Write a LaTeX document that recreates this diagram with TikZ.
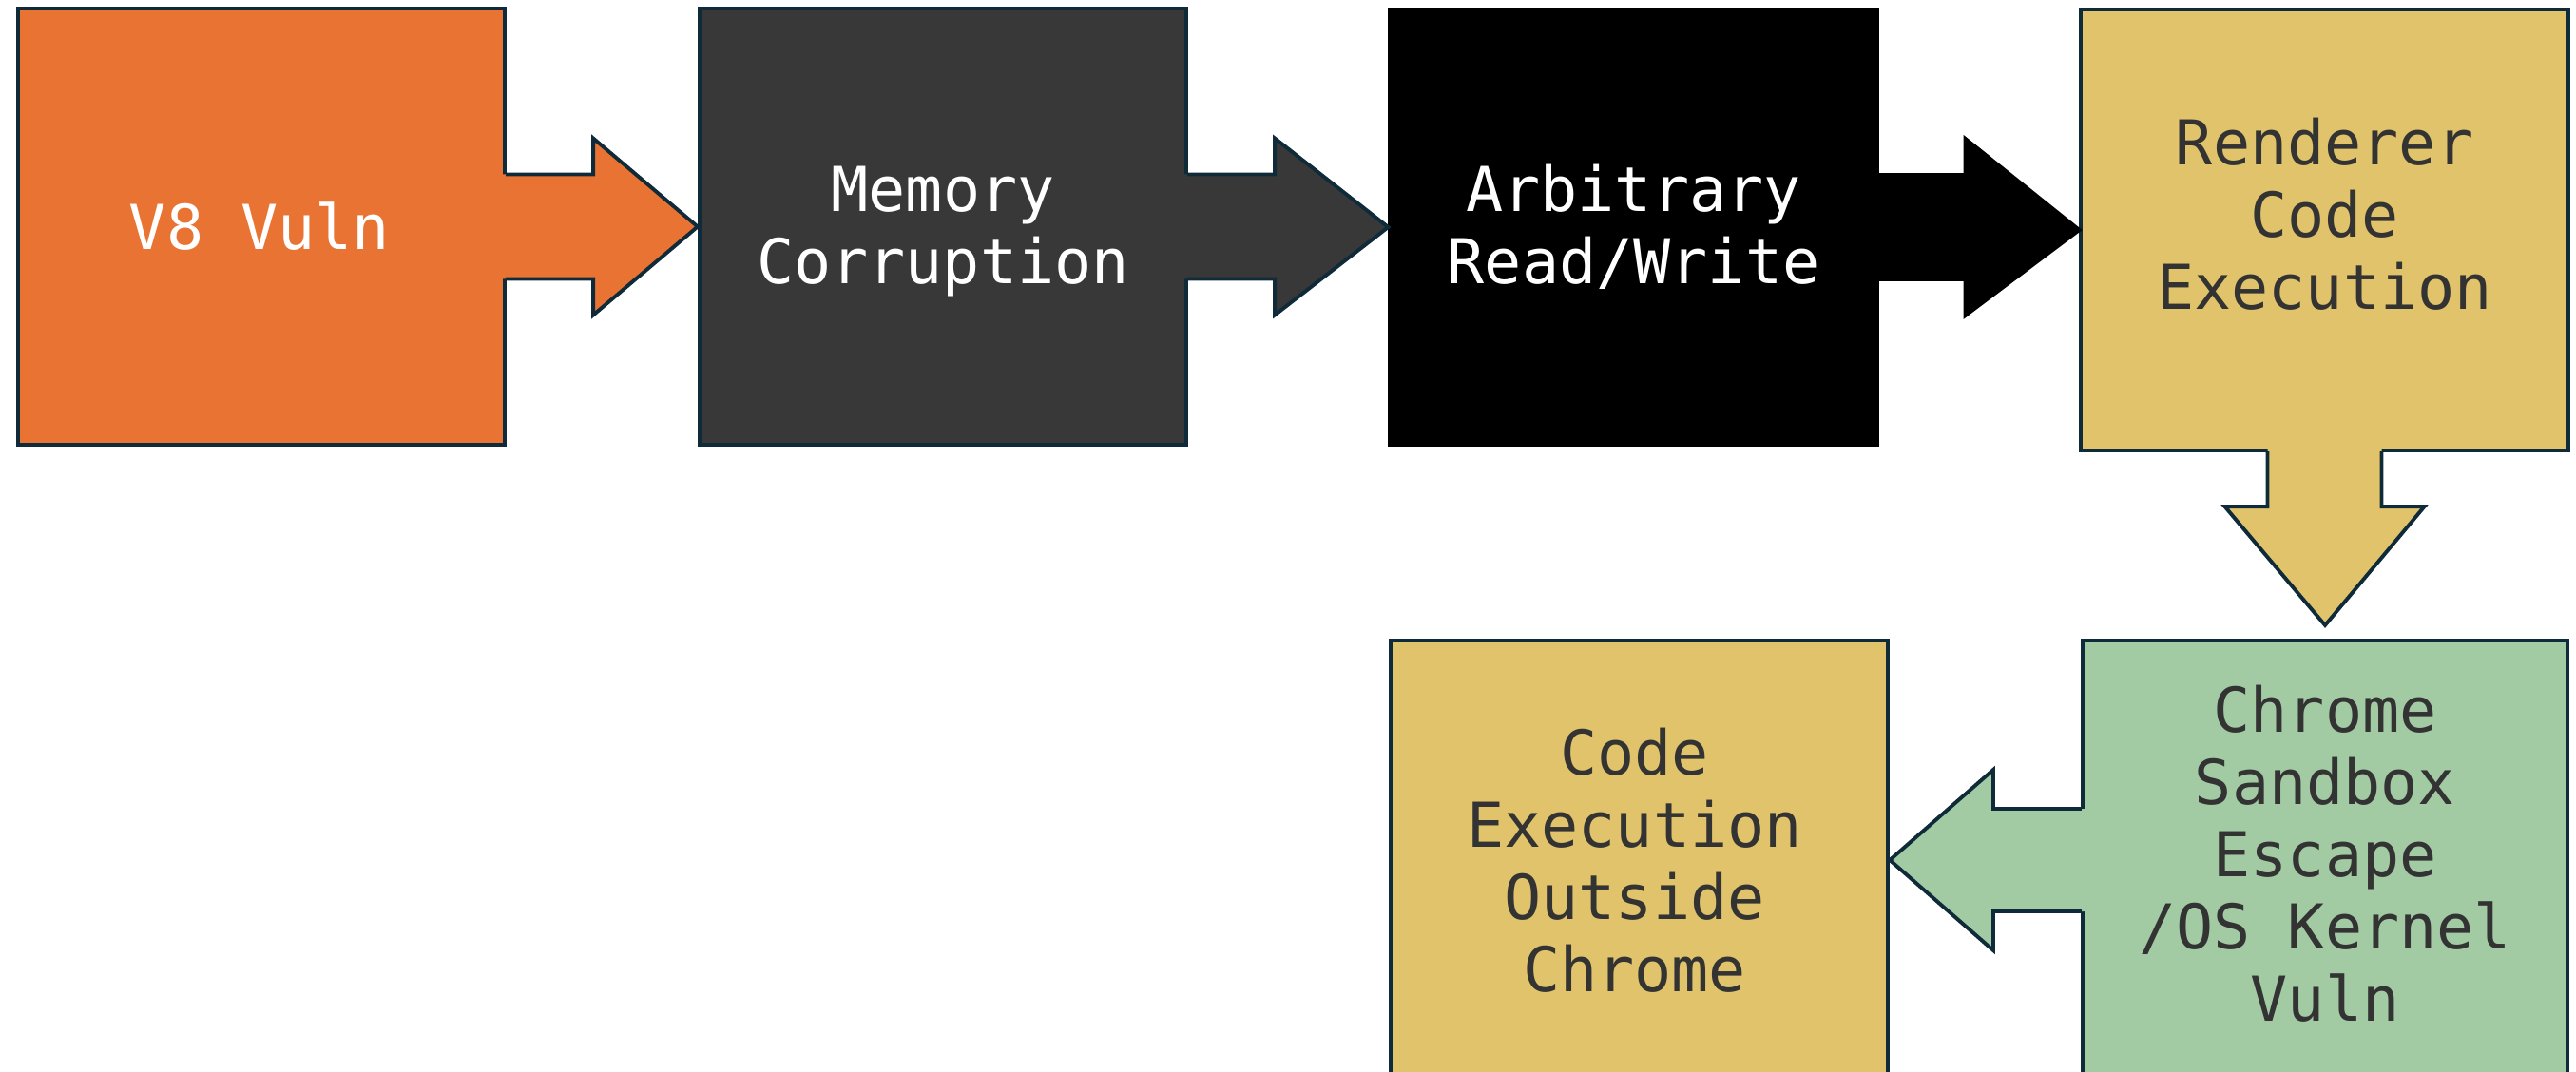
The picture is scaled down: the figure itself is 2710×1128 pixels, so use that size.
\documentclass[tikz,border=0pt]{standalone}
\usepackage{fontspec}
\newfontfamily\codefont{DejaVu Sans Mono}
\usepackage{tikz}
\usetikzlibrary{calc,positioning}

\definecolor{vulnorange}{HTML}{E97333}
\definecolor{memgray}{HTML}{383838}
\definecolor{stageyellow}{HTML}{E0C36A}
\definecolor{escapegreen}{HTML}{A2CBA4}
\definecolor{edgenavy}{HTML}{0F2A38}
\definecolor{labelgray}{HTML}{333333}

\tikzset{
  stage/.style={rectangle, draw=edgenavy, line width=1.1pt,
    minimum width=5.12cm, minimum height=4.58cm, inner sep=0pt},
  stagetext/.style={align=center, inner sep=0pt,
    font=\codefont\fontsize{18.5}{21.6}\selectfont},
  darktext/.style={stagetext, text=white},
  lighttext/.style={stagetext, text=labelgray}
}

\begin{document}
\begin{tikzpicture}[x=0.01cm,y=-0.01cm]
  \useasboundingbox (0,0) rectangle (2710,1128);
  \clip (0,0) rectangle (2710,1128);

  \node[stage, fill=vulnorange] (vuln) at (275,238.5) {};
  \node[stage, fill=memgray] (mem) at (992,238.5) {};
  \node[stage, fill=black, draw=black] (rw) at (1718.5,239) {};
  \node[stage, fill=stageyellow, minimum height=4.64cm] (render) at (2445.5,242) {};
  \node[stage, fill=escapegreen, minimum width=5.10cm, minimum height=4.62cm] (sandbox) at (2446,905) {};
  \node[stage, fill=stageyellow, minimum width=5.23cm, minimum height=4.62cm] (outside) at (1724.5,905) {};

  % top row, block arrows to the right
  \foreach \a/\b/\c/\e in {vuln/mem/vulnorange/edgenavy, mem/rw/memgray/edgenavy, rw/render/black/black}
  {
    \fill[\c] ($(\a.east)+(-4,-55)$) -- ($(\a.east)+(91,-55)$) -- ($(\a.east)+(91,-93)$)
      -- (\b.west) -- ($(\a.east)+(91,93)$) -- ($(\a.east)+(91,55)$) -- ($(\a.east)+(-4,55)$) -- cycle;
    \draw[\e, line width=1.1pt] ($(\a.east)+(-1,-55)$) -- ($(\a.east)+(91,-55)$) -- ($(\a.east)+(91,-93)$)
      -- (\b.west) -- ($(\a.east)+(91,93)$) -- ($(\a.east)+(91,55)$) -- ($(\a.east)+(-1,55)$);
  }

  % down from renderer
  \coordinate (down tip) at ($(sandbox.north)+(0,-14)$);
  \fill[stageyellow] ($(render.south)+(-60,-4)$) -- ($(render.south)+(-60,57)$) -- ($(render.south)+(-105,57)$)
    -- (down tip) -- ($(render.south)+(105,57)$) -- ($(render.south)+(60,57)$) -- ($(render.south)+(60,-4)$) -- cycle;
  \draw[edgenavy, line width=1.1pt] ($(render.south)+(-60,-1)$) -- ($(render.south)+(-60,57)$) -- ($(render.south)+(-105,57)$)
    -- (down tip) -- ($(render.south)+(105,57)$) -- ($(render.south)+(60,57)$) -- ($(render.south)+(60,-1)$);

  % back to the left
  \fill[escapegreen] ($(sandbox.west)+(4,-54)$) -- ($(sandbox.west)+(-92,-54)$) -- ($(sandbox.west)+(-92,-95)$)
    -- (outside.east) -- ($(sandbox.west)+(-92,95)$) -- ($(sandbox.west)+(-92,54)$) -- ($(sandbox.west)+(4,54)$) -- cycle;
  \draw[edgenavy, line width=1.1pt] ($(sandbox.west)+(1,-54)$) -- ($(sandbox.west)+(-92,-54)$) -- ($(sandbox.west)+(-92,-95)$)
    -- (outside.east) -- ($(sandbox.west)+(-92,95)$) -- ($(sandbox.west)+(-92,54)$) -- ($(sandbox.west)+(1,54)$);

  % labels
  \node[darktext] (vuln label) at ($(vuln)+(-2,0)$) {V8 Vuln};
  \node[darktext] (mem label) at ($(mem)+(0,5)$) {Memory\\Corruption};
  \node[darktext] (rw label) at (rw) {Arbitrary\\Read/Write};
  \node[lighttext] (render label) at ($(render)+(0,-17)$) {Renderer\\Code\\Execution};
  \node[lighttext] (sandbox label) at ($(sandbox)+(0,-7)$) {Chrome\\Sandbox\\Escape\\/OS Kernel\\Vuln};
  \node[lighttext] (outside label) at ($(outside)+(-5,0)$) {Code\\Execution\\Outside\\Chrome};
\end{tikzpicture}
\end{document}
